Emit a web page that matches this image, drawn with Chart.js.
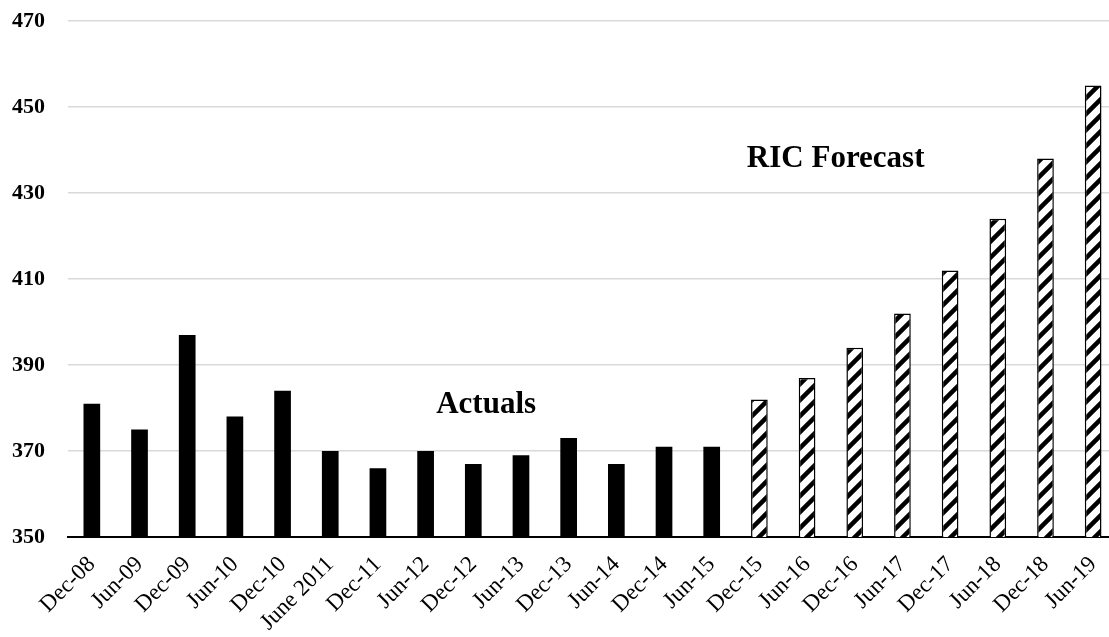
<!DOCTYPE html>
<html>
<head>
<meta charset="utf-8">
<script src="https://cdn.jsdelivr.net/npm/chart.js@4"></script>
<style>
html,body{margin:0;padding:0;background:#fff;overflow:hidden;width:1109px;height:637px;}
canvas{display:block;}
</style>
</head>
<body>
<canvas id="c" width="1117" height="637"></canvas>
<script>
const categories = ['Dec-08','Jun-09','Dec-09','Jun-10','Dec-10','June 2011','Dec-11','Jun-12','Dec-12','Jun-13','Dec-13','Jun-14','Dec-14','Jun-15','Dec-15','Jun-16','Dec-16','Jun-17','Dec-17','Jun-18','Dec-18','Jun-19'];
const actuals = [381,375,397,378,384,370,366,370,367,369,373,367,371,371,null,null,null,null,null,null,null,null];
const forecast = [null,null,null,null,null,null,null,null,null,null,null,null,null,null,382,387,394,402,412,424,438,455];
const yTicks = [350,370,390,410,430,450,470];
const annotations = [
  {text:'Actuals', x:8.27, y:380.8},
  {text:'RIC Forecast', x:15.6, y:437.9}
];

function hatch(){
  const c=document.createElement('canvas'); c.width=16; c.height=16;
  const g=c.getContext('2d');
  g.fillStyle='#fff'; g.fillRect(0,0,16,16);
  g.strokeStyle='#000'; g.lineWidth=4.5; g.lineCap='butt';
  g.beginPath();
  g.moveTo(-4,20); g.lineTo(20,-4);
  g.moveTo(-4,4); g.lineTo(4,-4);
  g.moveTo(12,20); g.lineTo(20,12);
  g.stroke();
  return g.createPattern(c,'repeat');
}

const annotPlugin = {
  id:'annot',
  afterDatasetsDraw(chart){
    const ctx=chart.ctx, xs=chart.scales.x, ys=chart.scales.y;
    ctx.save();
    ctx.font='bold 31px "Liberation Serif", "Times New Roman", serif';
    ctx.fillStyle='#000'; ctx.textAlign='center'; ctx.textBaseline='middle';
    annotations.forEach(a=>{
      const x0=xs.getPixelForValue(Math.floor(a.x)), x1=xs.getPixelForValue(Math.floor(a.x)+1);
      const px=x0+(x1-x0)*(a.x-Math.floor(a.x));
      ctx.fillText(a.text, px, ys.getPixelForValue(a.y));
    });
    ctx.restore();
  }
};

new Chart(document.getElementById('c'), {
  type:'bar',
  data:{
    labels:categories,
    datasets:[
      {label:'Actuals', data:actuals, backgroundColor:'#000', borderWidth:0},
      {label:'RIC Forecast', data:forecast, backgroundColor:hatch(), borderColor:'#000', borderWidth:1.5}
    ]
  },
  options:{
    responsive:false, animation:false, devicePixelRatio:1,
    layout:{padding:{top:21,right:0,left:0,bottom:0}},
    datasets:{bar:{grouped:false, barPercentage:0.35, categoryPercentage:1}},
    plugins:{legend:{display:false}, tooltip:{enabled:false}},
    scales:{
      x:{
        grid:{display:false, drawTicks:false},
        border:{display:true, color:'#000', width:2},
        ticks:{color:'#000', minRotation:45, maxRotation:45, autoSkip:false, padding:14,
          font:{family:'"Liberation Serif", "Times New Roman", serif', size:23}},
        afterFit(s){ s.height=100; s.paddingLeft=0; s.paddingRight=0; s.paddingTop=0; s.paddingBottom=0; }
      },
      y:{
        min:350, max:470,
        afterBuildTicks(s){ s.ticks = yTicks.map(v=>({value:v})); },
        grid:{color:'#d9d9d9', lineWidth:1.5, drawTicks:false},
        border:{display:false},
        ticks:{color:'#000', padding:23,
          font:{family:'"Liberation Serif", "Times New Roman", serif', size:22, weight:'bold'}},
        afterFit(s){ s.width=68; s.paddingTop=0; s.paddingBottom=0; }
      }
    }
  },
  plugins:[annotPlugin]
});
</script>
</body>
</html>
